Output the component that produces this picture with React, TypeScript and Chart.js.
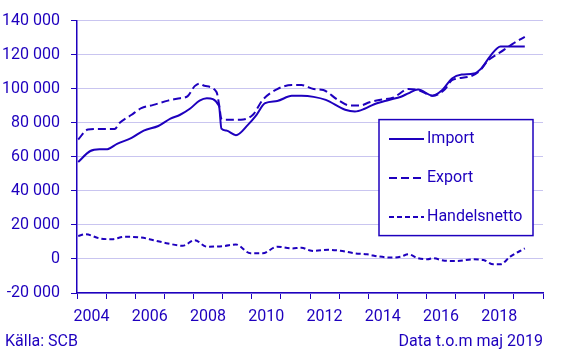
import React, { useEffect, useRef } from 'react';
import { Chart, registerables } from 'chart.js';

Chart.register(...registerables);

const BLUE = '#1E00BE';
const GRID = '#c9c5f0';
const FONT = 'Roboto';

const seriesLabels = ['Import', 'Export', 'Handelsnetto'];

const importMonths = [
  '2004-01', '2004-06', '2004-10', '2005-01', '2005-05', '2005-11', '2006-04', '2006-10',
  '2007-03', '2007-07', '2007-11', '2008-03', '2008-06', '2008-11', '2008-12', '2009-02',
  '2009-06', '2009-11', '2010-02', '2010-06', '2010-11', '2011-05', '2011-09', '2012-02',
  '2012-07', '2013-03', '2013-07', '2013-11', '2014-03', '2014-09', '2015-02', '2015-05',
  '2015-09', '2016-03', '2016-07', '2016-11', '2017-03', '2017-08', '2017-11', '2018-03',
  '2018-07', '2019-05',
];
const importValues = [
  57000, 63400, 64400, 64500, 67600, 71100, 75400, 78100,
  82400, 84700, 88200, 93000, 94400, 90000, 76500, 75400,
  72700, 78900, 83700, 91500, 92800, 95800, 95800, 95200,
  93400, 87600, 86600, 88200, 90900, 93400, 95300, 97300,
  99600, 95900, 99200, 106000, 108300, 108900, 111800, 119600,
  124800, 124800,
];

const exportMonths = [
  '2004-01', '2004-05', '2004-10', '2005-04', '2005-06', '2005-11', '2006-03', '2006-08',
  '2007-02', '2007-07', '2007-10', '2008-01', '2008-03', '2008-05', '2008-10', '2008-11',
  '2008-12', '2009-02', '2009-08', '2010-01', '2010-05', '2010-11', '2011-05', '2011-09',
  '2012-02', '2012-06', '2012-12', '2013-05', '2013-09', '2014-01', '2014-05', '2014-11',
  '2015-05', '2015-09', '2016-03', '2016-08', '2016-11', '2017-06', '2017-10', '2018-02',
  '2018-07', '2018-12', '2019-05',
];
const exportValues = [
  70200, 76000, 76300, 76300, 79800, 84700, 88600, 90500,
  93000, 94400, 95500, 101500, 103000, 101700, 98000, 91000,
  82500, 81800, 81800, 84700, 93400, 99800, 102100, 102100,
  99800, 99200, 93400, 90100, 90100, 92000, 93400, 94900,
  99800, 99200, 95900, 99500, 105000, 107000, 109900, 116700,
  121500, 126300, 130400,
];

const netMonths = [
  '2004-01', '2004-04', '2004-10', '2005-03', '2005-08', '2006-03', '2006-08', '2007-02',
  '2007-08', '2008-01', '2008-06', '2009-01', '2009-06', '2009-12', '2010-05', '2010-11',
  '2011-05', '2011-09', '2011-12', '2012-02', '2012-08', '2013-01', '2013-07', '2013-12',
  '2014-05', '2014-10', '2015-02', '2015-05', '2015-09', '2016-01', '2016-03', '2016-08',
  '2017-01', '2017-08', '2017-12', '2018-04', '2018-07', '2018-11', '2019-05',
];
const netValues = [
  13500, 14500, 12000, 11600, 13000, 12600, 11000, 9100,
  7700, 11000, 7200, 7600, 8500, 3300, 3300, 7200,
  6200, 6600, 5200, 4700, 5400, 4800, 3300, 2700,
  1400, 800, 1400, 2700, 400, -200, 400, -1000,
  -1200, -200, -600, -3100, -3100, 1400, 6200,
];

const xTickYears = [2004, 2005, 2006, 2007, 2008, 2009, 2010, 2011, 2012, 2013, 2014, 2015, 2016, 2017, 2018, 2019, 2020];
const xLabelYears = [2004, 2006, 2008, 2010, 2012, 2014, 2016, 2018];
const yMin = -20000;
const yMax = 140000;
const yStep = 20000;

const sourceText = 'Källa: SCB';
const noteText = 'Data t.o.m maj 2019';

const toX = (s: string) => {
  const [y, m] = s.split('-').map(Number);
  return y + (m - 0.5) / 12;
};

const fmt = (v: number) => {
  const s = String(Math.abs(v)).replace(/\B(?=(\d{3})+(?!\d))/g, ' ');
  return (v < 0 ? '-' : '') + s;
};

const overlayPlugin = {
  id: 'overlay',
  afterDraw(chart: any) {
    const { ctx, chartArea } = chart;
    ctx.save();
    // legend box
    const bx = chartArea.right - 164;
    const by = chartArea.top + 99;
    const bw = 154;
    const bh = 116;
    ctx.fillStyle = '#ffffff';
    ctx.fillRect(bx, by, bw, bh);
    ctx.strokeStyle = BLUE;
    ctx.lineWidth = 1.5;
    ctx.strokeRect(bx, by, bw, bh);
    ctx.font = `16px ${FONT}`;
    ctx.textBaseline = 'middle';
    ctx.textAlign = 'left';
    chart.data.datasets.forEach((ds: any, i: number) => {
      const y = by + 19.5 + i * 39;
      ctx.beginPath();
      ctx.setLineDash(ds.borderDash || []);
      ctx.strokeStyle = BLUE;
      ctx.lineWidth = 2;
      ctx.moveTo(bx + 10, y);
      ctx.lineTo(bx + 45, y);
      ctx.stroke();
      ctx.setLineDash([]);
      ctx.fillStyle = BLUE;
      ctx.fillText(ds.label, bx + 48, y);
    });
    // footer
    ctx.fillStyle = BLUE;
    ctx.font = `16px ${FONT}`;
    ctx.textAlign = 'left';
    ctx.fillText(sourceText, 5, chart.height - 15);
    ctx.textAlign = 'right';
    ctx.fillText(noteText, chartArea.right, chart.height - 15);
    ctx.restore();
  },
};

export default function App() {
  const ref = useRef<HTMLCanvasElement | null>(null);
  useEffect(() => {
    document.body.style.margin = '0';
    if (!ref.current) return;
    const mk = (months: string[], values: number[]) =>
      months.map((m, i) => ({ x: toX(m), y: values[i] }));
    const common = {
      borderColor: BLUE,
      backgroundColor: BLUE,
      borderWidth: 2,
      pointRadius: 0,
      fill: false,
      cubicInterpolationMode: 'monotone' as const,
    };
    const chart = new Chart(ref.current, {
      type: 'line',
      data: {
        datasets: [
          { ...common, label: seriesLabels[0], data: mk(importMonths, importValues), borderDash: [] },
          { ...common, label: seriesLabels[1], data: mk(exportMonths, exportValues), borderDash: [8, 4] },
          { ...common, label: seriesLabels[2], data: mk(netMonths, netValues), borderDash: [5, 3] },
        ],
      },
      options: {
        animation: false,
        responsive: false,
        maintainAspectRatio: false,
        layout: { padding: { top: 18, right: 25, left: 0, bottom: 0 } },
        plugins: { legend: { display: false }, tooltip: { enabled: false } },
        scales: {
          x: {
            type: 'linear',
            min: xTickYears[0],
            max: xTickYears[xTickYears.length - 1],
            afterBuildTicks: (s: any) => {
              s.ticks = xTickYears.map((v) => ({ value: v }));
            },
            afterFit: (s: any) => {
              s.height = 64;
            },
            ticks: {
              autoSkip: false,
              maxRotation: 0,
              minRotation: 0,
              labelOffset: 14.56,
              padding: 8,
              color: BLUE,
              font: { family: FONT, size: 16 },
              callback: (v: any) => (xLabelYears.includes(Number(v)) ? String(v) : ''),
            },
            grid: { drawOnChartArea: false, drawTicks: true, tickLength: 6, color: BLUE, lineWidth: 1 },
            border: { color: BLUE, width: 1.5 },
          },
          y: {
            min: yMin,
            max: yMax,
            afterFit: (s: any) => {
              s.width = 77;
            },
            ticks: {
              stepSize: yStep,
              padding: 11,
              color: BLUE,
              font: { family: FONT, size: 16 },
              callback: (v: any) => fmt(Number(v)),
            },
            grid: { color: GRID, tickColor: BLUE, tickLength: 6, lineWidth: 1 },
            border: { color: BLUE, width: 1.5 },
          },
        },
      },
      plugins: [overlayPlugin],
    });
    return () => chart.destroy();
  }, []);
  return (
    <div style={{ width: 568, height: 357 }}>
      <canvas ref={ref} width={568} height={357} style={{ display: 'block', width: 568, height: 357 }} />
    </div>
  );
}
